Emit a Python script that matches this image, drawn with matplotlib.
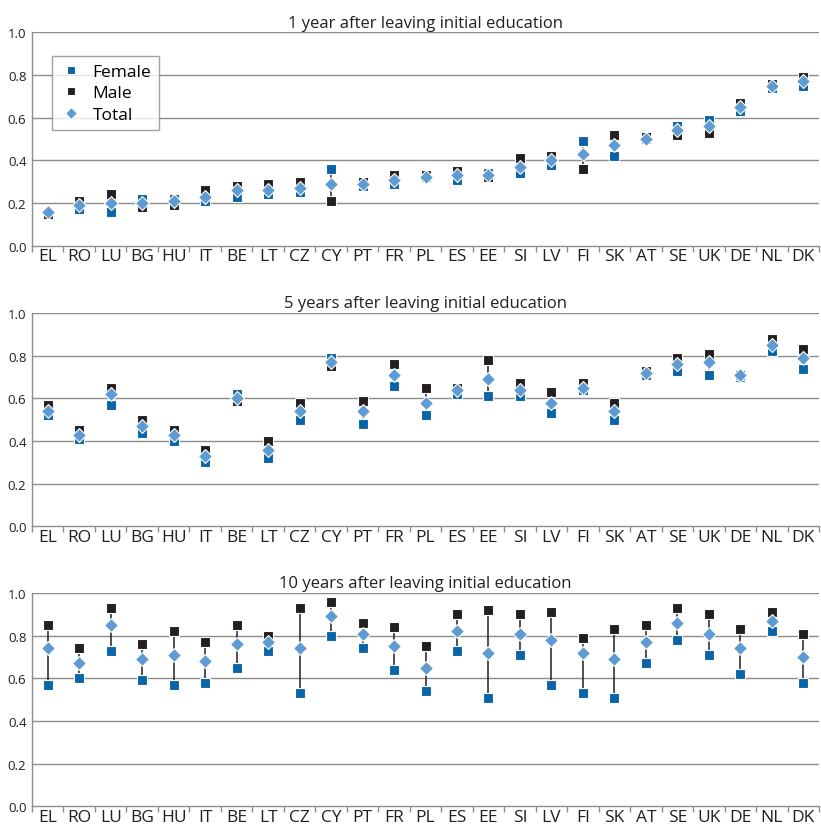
import matplotlib
matplotlib.use("Agg")
import matplotlib.pyplot as plt

plt.rcParams['font.family'] = ['Open Sans', 'DejaVu Sans']

countries = ["EL", "RO", "LU", "BG", "HU", "IT", "BE", "LT", "CZ", "CY", "PT", "FR", "PL",
             "ES", "EE", "SI", "LV", "FI", "SK", "AT", "SE", "UK", "DE", "NL", "DK"]

titles = ["1 year after leaving initial education",
          "5 years after leaving initial education",
          "10 years after leaving initial education"]

# 1 year
female_1 = [0.15, 0.17, 0.16, 0.22, 0.22, 0.21, 0.23, 0.24, 0.25, 0.36, 0.28, 0.29, 0.32,
            0.31, 0.34, 0.34, 0.38, 0.49, 0.42, 0.50, 0.56, 0.59, 0.63, 0.74, 0.75]
male_1 = [0.15, 0.21, 0.24, 0.18, 0.19, 0.26, 0.28, 0.29, 0.30, 0.21, 0.30, 0.33, 0.33,
          0.35, 0.32, 0.41, 0.42, 0.36, 0.52, 0.51, 0.52, 0.53, 0.67, 0.76, 0.79]
total_1 = [0.16, 0.19, 0.20, 0.20, 0.21, 0.23, 0.26, 0.26, 0.27, 0.29, 0.29, 0.31, 0.32,
           0.33, 0.33, 0.37, 0.40, 0.43, 0.47, 0.50, 0.54, 0.56, 0.65, 0.75, 0.77]

# 5 years
female_5 = [0.52, 0.41, 0.57, 0.44, 0.40, 0.30, 0.62, 0.32, 0.50, 0.79, 0.48, 0.66, 0.52,
            0.62, 0.61, 0.61, 0.53, 0.64, 0.50, 0.71, 0.73, 0.71, 0.70, 0.82, 0.74]
male_5 = [0.57, 0.45, 0.65, 0.50, 0.45, 0.36, 0.59, 0.40, 0.58, 0.75, 0.59, 0.76, 0.65,
          0.65, 0.78, 0.67, 0.63, 0.67, 0.58, 0.73, 0.79, 0.81, 0.71, 0.88, 0.83]
total_5 = [0.54, 0.43, 0.62, 0.47, 0.43, 0.33, 0.60, 0.36, 0.54, 0.77, 0.54, 0.71, 0.58,
           0.64, 0.69, 0.64, 0.58, 0.65, 0.54, 0.72, 0.76, 0.77, 0.71, 0.85, 0.79]

# 10 years
female_10 = [0.57, 0.60, 0.73, 0.59, 0.57, 0.58, 0.65, 0.73, 0.53, 0.80, 0.74, 0.64, 0.54,
             0.73, 0.51, 0.71, 0.57, 0.53, 0.51, 0.67, 0.78, 0.71, 0.62, 0.82, 0.58]
male_10 = [0.85, 0.74, 0.93, 0.76, 0.82, 0.77, 0.85, 0.80, 0.93, 0.96, 0.86, 0.84, 0.75,
           0.90, 0.92, 0.90, 0.91, 0.79, 0.83, 0.85, 0.93, 0.90, 0.83, 0.91, 0.81]
total_10 = [0.74, 0.67, 0.85, 0.69, 0.71, 0.68, 0.76, 0.77, 0.74, 0.89, 0.81, 0.75, 0.65,
            0.82, 0.72, 0.81, 0.78, 0.72, 0.69, 0.77, 0.86, 0.81, 0.74, 0.87, 0.70]

panels = [(female_1, male_1, total_1), (female_5, male_5, total_5), (female_10, male_10, total_10)]

c_female = '#0a64a8'
c_male = '#231f20'
c_total = '#5e9bd3'
c_grid = '#8c8c8c'

fig = plt.figure(figsize=(8.21, 8.29), dpi=100)
tops = [0.9598, 0.6212, 0.2835]
height = 0.2574
x = list(range(len(countries)))

for i, (fem, mal, tot) in enumerate(panels):
    ax = fig.add_axes([0.039, tops[i] - height, 0.9586, height])
    ax.vlines(x, fem, mal, color=c_male, lw=1.1, zorder=2)
    ax.plot(x, fem, 's', color=c_female, ms=7.5, mec='white', mew=0.8, ls='none', label='Female', zorder=3)
    ax.plot(x, mal, 's', color=c_male, ms=7.5, mec='white', mew=0.8, ls='none', label='Male', zorder=3)
    ax.plot(x, tot, 'D', color=c_total, ms=7.5, mec='white', mew=0.8, ls='none', label='Total', zorder=4)
    ax.set_ylim(0, 1.0)
    ax.set_xlim(-0.5, len(countries) - 0.5)
    ax.set_yticks([0.0, 0.2, 0.4, 0.6, 0.8, 1.0])
    ax.set_yticklabels(['0.0', '0.2', '0.4', '0.6', '0.8', '1.0'], fontsize=9.5, color='#231f20')
    for yv in [0.2, 0.4, 0.6, 0.8, 1.0]:
        ax.axhline(yv, color=c_grid, lw=1.0, zorder=1)
    ax.set_xticks(x)
    ax.set_xticklabels(countries, fontsize=12.5, color='#231f20')
    ax.tick_params(axis='x', length=0, pad=2)
    ax.set_xticks([k - 0.5 for k in range(len(countries) + 1)], minor=True)
    ax.tick_params(axis='x', which='minor', length=4, color=c_grid, width=1.0)
    ax.tick_params(axis='y', length=0, pad=4)
    for s in ['top', 'right']:
        ax.spines[s].set_visible(False)
    ax.spines['left'].set_color(c_grid)
    ax.spines['bottom'].set_color(c_grid)
    ax.spines['left'].set_linewidth(1.0)
    ax.spines['bottom'].set_linewidth(1.0)
    ax.set_title(titles[i], fontsize=12, color='#231f20', pad=4)
    if i == 0:
        leg = ax.legend(loc='upper left', bbox_to_anchor=(0.014, 0.93), fontsize=12.5,
                        frameon=True, fancybox=False, edgecolor=c_grid, handletextpad=0.6,
                        borderpad=0.45, labelspacing=0.3, handlelength=1.3, markerscale=0.85)
        leg.get_frame().set_linewidth(1.0)

fig.savefig('out.png', dpi=100)
